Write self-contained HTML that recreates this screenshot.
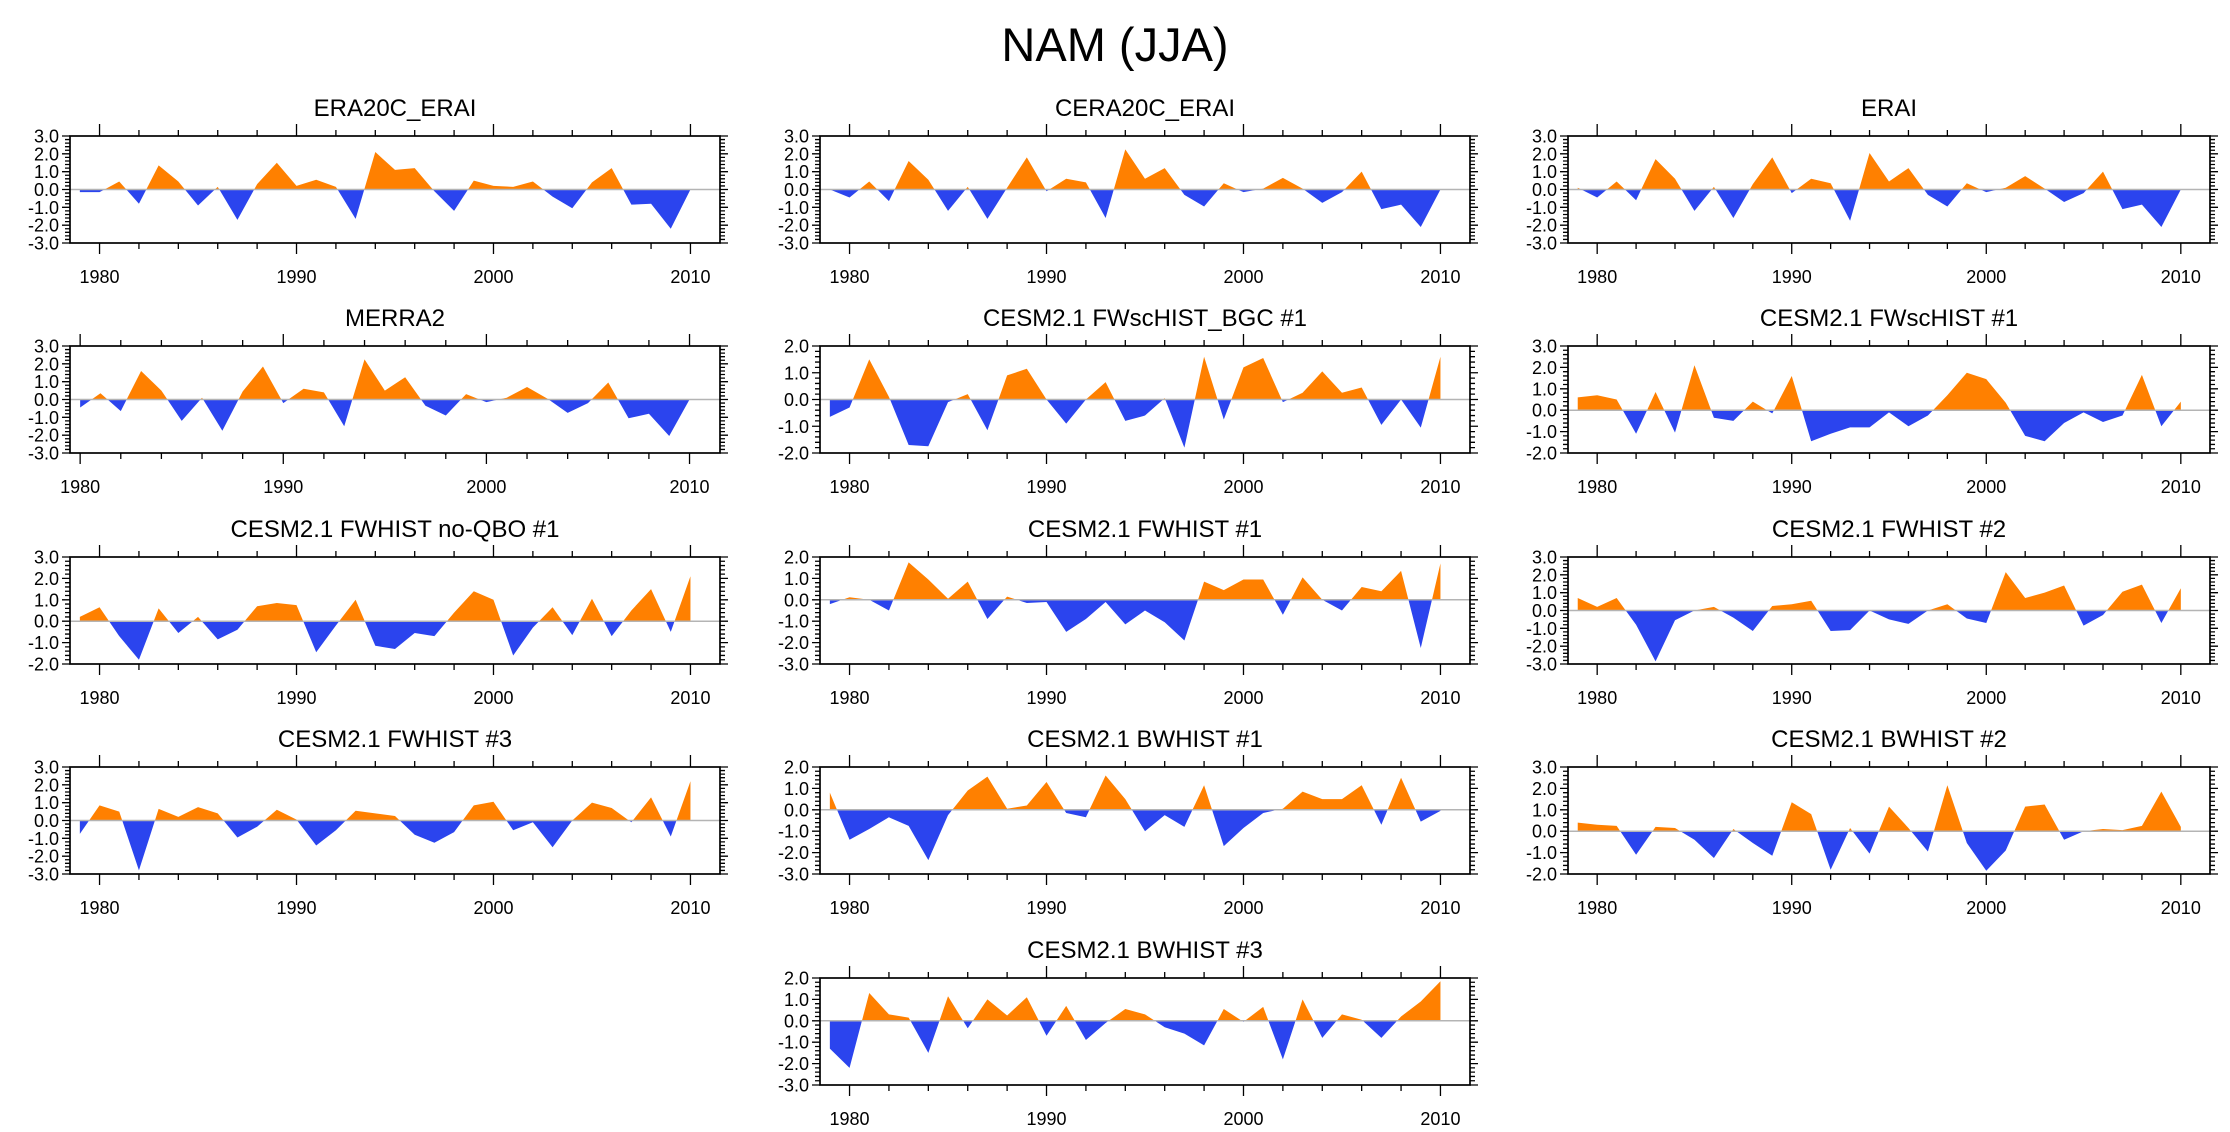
<!DOCTYPE html>
<html><head><meta charset="utf-8"><style>
html,body{margin:0;padding:0;background:#fff;}
svg{display:block;font-family:"Liberation Sans",Arial,sans-serif;}
</style></head><body>
<svg id="chart" width="2230" height="1132" viewBox="0 0 2230 1132" xmlns="http://www.w3.org/2000/svg">
<rect width="2230" height="1132" fill="#fff"/>
<text x="1115" y="61" font-size="47" text-anchor="middle" fill="#000">NAM (JJA)</text>
</svg>
<script>
const years = [1979,1980,1981,1982,1983,1984,1985,1986,1987,1988,1989,1990,1991,1992,1993,1994,1995,1996,1997,1998,1999,2000,2001,2002,2003,2004,2005,2006,2007,2008,2009,2010];
const yearsMerra = [1980,1981,1982,1983,1984,1985,1986,1987,1988,1989,1990,1991,1992,1993,1994,1995,1996,1997,1998,1999,2000,2001,2002,2003,2004,2005,2006,2007,2008,2009,2010];
const xTickLabels = ["1980","1990","2000","2010"];
const ticks3to3 = ["3.0","2.0","1.0","0.0","-1.0","-2.0","-3.0"];
const ticks2to2 = ["2.0","1.0","0.0","-1.0","-2.0"];
const ticks3to2 = ["3.0","2.0","1.0","0.0","-1.0","-2.0"];
const ticks2to3 = ["2.0","1.0","0.0","-1.0","-2.0","-3.0"];

const valsEra20c = [-0.15,-0.15,0.45,-0.8,1.35,0.45,-0.9,0.15,-1.7,0.3,1.5,0.2,0.55,0.15,-1.65,2.1,1.1,1.2,-0.1,-1.2,0.5,0.2,0.15,0.45,-0.4,-1.05,0.4,1.2,-0.85,-0.8,-2.2,0.0];
const valsCera20c = [0.0,-0.45,0.45,-0.65,1.6,0.55,-1.2,0.15,-1.65,0.1,1.8,-0.1,0.6,0.4,-1.6,2.25,0.6,1.2,-0.3,-0.95,0.35,-0.15,0.05,0.65,0.05,-0.75,-0.15,1.0,-1.1,-0.85,-2.1,0.0];
const valsErai = [0.1,-0.45,0.45,-0.6,1.7,0.6,-1.2,0.15,-1.6,0.3,1.8,-0.2,0.6,0.35,-1.75,2.05,0.45,1.2,-0.3,-0.95,0.35,-0.15,0.1,0.75,0.05,-0.7,-0.2,1.0,-1.1,-0.85,-2.1,0.0];
const valsMerra2 = [-0.45,0.35,-0.65,1.6,0.5,-1.2,0.1,-1.75,0.45,1.85,-0.2,0.6,0.4,-1.5,2.25,0.5,1.25,-0.35,-0.9,0.3,-0.15,0.1,0.7,0.05,-0.75,-0.2,0.95,-1.05,-0.8,-2.05,0.0];
const valsFwscBgc1 = [-0.65,-0.3,1.5,0.1,-1.7,-1.75,-0.1,0.2,-1.15,0.9,1.15,0.0,-0.9,0.0,0.65,-0.8,-0.6,0.05,-1.8,1.6,-0.75,1.2,1.55,-0.1,0.25,1.05,0.25,0.45,-0.95,0.0,-1.05,1.6];
const valsFwsc1 = [0.6,0.7,0.5,-1.1,0.85,-1.05,2.1,-0.35,-0.5,0.4,-0.15,1.6,-1.45,-1.1,-0.8,-0.8,-0.1,-0.75,-0.25,0.7,1.75,1.45,0.35,-1.2,-1.45,-0.6,-0.1,-0.55,-0.25,1.65,-0.75,0.4];
const valsNoQbo1 = [0.2,0.65,-0.7,-1.8,0.6,-0.55,0.2,-0.85,-0.4,0.7,0.85,0.75,-1.45,-0.2,1.0,-1.15,-1.3,-0.55,-0.7,0.4,1.4,1.0,-1.6,-0.3,0.65,-0.65,1.05,-0.7,0.5,1.5,-0.5,2.1];
const valsFw1 = [-0.2,0.12,0.0,-0.5,1.75,0.95,0.05,0.85,-0.9,0.15,-0.15,-0.1,-1.5,-0.9,-0.1,-1.15,-0.5,-1.05,-1.9,0.85,0.45,0.95,0.95,-0.7,1.05,0.0,-0.5,0.6,0.4,1.35,-2.25,1.7];
const valsFw2 = [0.7,0.2,0.7,-0.8,-2.85,-0.55,0.0,0.2,-0.4,-1.15,0.25,0.35,0.55,-1.15,-1.1,0.0,-0.5,-0.75,0.0,0.35,-0.45,-0.7,2.15,0.7,1.0,1.4,-0.85,-0.25,1.05,1.45,-0.7,1.25];
const valsFw3 = [-0.75,0.85,0.5,-2.8,0.65,0.2,0.75,0.4,-0.95,-0.35,0.6,0.05,-1.4,-0.55,0.55,0.4,0.25,-0.8,-1.25,-0.65,0.85,1.05,-0.55,-0.1,-1.5,0.0,1.0,0.7,-0.1,1.3,-0.9,2.2];
const valsBw1 = [0.8,-1.4,-0.9,-0.35,-0.75,-2.35,-0.25,0.9,1.55,0.05,0.2,1.3,-0.15,-0.35,1.6,0.5,-1.0,-0.25,-0.8,1.15,-1.7,-0.85,-0.15,0.05,0.85,0.5,0.5,1.15,-0.7,1.5,-0.55,-0.05];
const valsBw2 = [0.4,0.3,0.25,-1.1,0.2,0.15,-0.4,-1.25,0.1,-0.55,-1.15,1.35,0.8,-1.8,0.15,-1.05,1.15,0.15,-0.95,2.15,-0.55,-1.85,-0.9,1.15,1.25,-0.4,0.0,0.1,0.05,0.25,1.85,0.2];
const valsBw3 = [-1.3,-2.2,1.3,0.3,0.15,-1.5,1.15,-0.35,1.0,0.25,1.1,-0.7,0.7,-0.9,-0.1,0.55,0.3,-0.3,-0.6,-1.15,0.55,-0.05,0.65,-1.8,1.0,-0.8,0.3,0.05,-0.8,0.2,0.9,1.85];

const panels = [
  {name:"ERA20C_ERAI", slug:"era20c-erai", x:70, y:136, w:650, yrs:years, vals:valsEra20c, ticks:ticks3to3},
  {name:"CERA20C_ERAI", slug:"cera20c-erai", x:820, y:136, w:650, yrs:years, vals:valsCera20c, ticks:ticks3to3},
  {name:"ERAI", slug:"erai", x:1568, y:136, w:642, yrs:years, vals:valsErai, ticks:ticks3to3},
  {name:"MERRA2", slug:"merra2", x:70, y:346, w:650, yrs:yearsMerra, vals:valsMerra2, ticks:ticks3to3, xmin:1979.5},
  {name:"CESM2.1 FWscHIST_BGC #1", slug:"fwschist-bgc-1", x:820, y:346, w:650, yrs:years, vals:valsFwscBgc1, ticks:ticks2to2},
  {name:"CESM2.1 FWscHIST #1", slug:"fwschist-1", x:1568, y:346, w:642, yrs:years, vals:valsFwsc1, ticks:ticks3to2},
  {name:"CESM2.1 FWHIST no-QBO #1", slug:"fwhist-noqbo-1", x:70, y:557, w:650, yrs:years, vals:valsNoQbo1, ticks:ticks3to2},
  {name:"CESM2.1 FWHIST #1", slug:"fwhist-1", x:820, y:557, w:650, yrs:years, vals:valsFw1, ticks:ticks2to3},
  {name:"CESM2.1 FWHIST #2", slug:"fwhist-2", x:1568, y:557, w:642, yrs:years, vals:valsFw2, ticks:ticks3to3},
  {name:"CESM2.1 FWHIST #3", slug:"fwhist-3", x:70, y:767, w:650, yrs:years, vals:valsFw3, ticks:ticks3to3},
  {name:"CESM2.1 BWHIST #1", slug:"bwhist-1", x:820, y:767, w:650, yrs:years, vals:valsBw1, ticks:ticks2to3},
  {name:"CESM2.1 BWHIST #2", slug:"bwhist-2", x:1568, y:767, w:642, yrs:years, vals:valsBw2, ticks:ticks3to2},
  {name:"CESM2.1 BWHIST #3", slug:"bwhist-3", x:820, y:978, w:650, yrs:years, vals:valsBw3, ticks:ticks2to3}
];

const NS = "http://www.w3.org/2000/svg";
const svg = document.getElementById("chart");
function mk(tag, attrs, parent){
  const e = document.createElementNS(NS, tag);
  for (const k in attrs) e.setAttribute(k, attrs[k]);
  parent.appendChild(e);
  return e;
}
const H = 107;
panels.forEach((p, pi) => {
  const g = mk("g", {}, svg);
  
  
  const tickVals = p.ticks.map(parseFloat);
  const ymax = Math.max(...tickVals), ymin = Math.min(...tickVals);
  const xmin = p.xmin !== undefined ? p.xmin : 1978.5, xmax = 2011.5;
  const sx = v => p.x + (v - xmin) / (xmax - xmin) * p.w;
  const sy = v => p.y + (ymax - v) / (ymax - ymin) * H;
  const x0 = p.x, x1 = p.x + p.w, y0 = p.y, y1 = p.y + H;

  const title = mk("text", {x: x0 + p.w/2, y: y0 - 20, "font-size": 24, "text-anchor": "middle", fill: "#000"}, g);
  title.textContent = p.name;
  
  

  const defs = mk("defs", {}, g);
  const cpA = mk("clipPath", {id: "ca" + pi}, defs);
  mk("rect", {x: x0, y: y0, width: p.w, height: sy(0) - y0}, cpA);
  const cpB = mk("clipPath", {id: "cb" + pi}, defs);
  mk("rect", {x: x0, y: sy(0), width: p.w, height: y1 - sy(0)}, cpB);

  let pts = sx(p.yrs[0]).toFixed(2) + "," + sy(0).toFixed(2) + " ";
  p.vals.forEach((v, i) => { pts += sx(p.yrs[i]).toFixed(2) + "," + sy(v).toFixed(2) + " "; });
  pts += sx(p.yrs[p.yrs.length-1]).toFixed(2) + "," + sy(0).toFixed(2);
  const pa = mk("polygon", {points: pts, fill: "#ff8000", "clip-path": "url(#ca" + pi + ")"}, g);
  
  
  const pb = mk("polygon", {points: pts, fill: "#2b44ee", "clip-path": "url(#cb" + pi + ")"}, g);
  
  

  const zl = mk("line", {x1: x0, x2: x1, y1: sy(0), y2: sy(0), stroke: "#b4b4b4", "stroke-width": 1.5}, g);
  
  

  const box = mk("rect", {x: x0, y: y0, width: p.w, height: H, fill: "none", stroke: "#000", "stroke-width": 1.7}, g);
  
  

  let tk = "";
  for (let v = Math.round(ymin*5); v <= Math.round(ymax*5); v++) {
    const yy = sy(v/5);
    const major = v % 5 === 0;
    const len = major ? 8 : 5;
    tk += `M${x0} ${yy}h${-len}M${x1} ${yy}h${len}`;
  }
  for (let yr = 1980; yr <= 2010; yr += 2) {
    const xx = sx(yr);
    const major = yr % 10 === 0;
    tk += `M${xx} ${y0}v${major ? -12 : -6}M${xx} ${y1}v${major ? 11 : 6}`;
  }
  const tp = mk("path", {d: tk, stroke: "#000", "stroke-width": 1.3, fill: "none"}, g);
  
  

  p.ticks.forEach(lbl => {
    const t = mk("text", {x: x0 - 11, y: sy(parseFloat(lbl)) + 6.5, "font-size": 18, "text-anchor": "end", fill: "#000"}, g);
    t.textContent = lbl;
    
    
  });
  xTickLabels.forEach(lbl => {
    const t = mk("text", {x: sx(parseFloat(lbl)), y: y1 + 40, "font-size": 18, "text-anchor": "middle", fill: "#000"}, g);
    t.textContent = lbl;
    
    
  });
});
</script>
</body></html>
